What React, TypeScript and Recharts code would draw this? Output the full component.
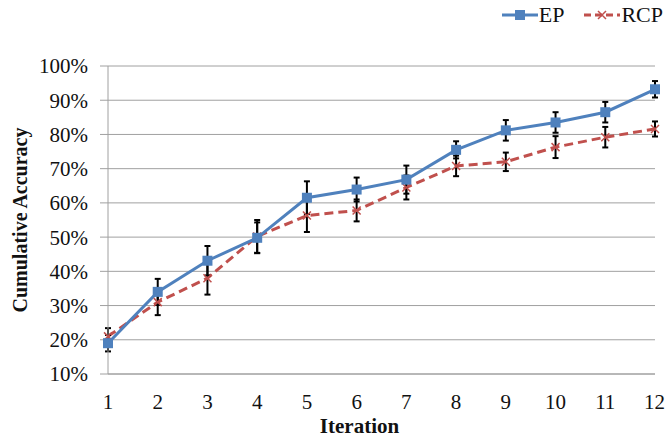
import { LineChart, Line, XAxis, YAxis, CartesianGrid, ErrorBar, Legend } from 'recharts';

const iterations = [1, 2, 3, 4, 5, 6, 7, 8, 9, 10, 11, 12];
const epValues = [19, 34, 43.1, 49.8, 61.5, 63.9, 66.8, 75.5, 81.2, 83.5, 86.5, 93.2];
const epErrors = [2.4, 3.8, 4.3, 4.5, 4.8, 3.5, 4.1, 2.5, 3, 3, 3, 2.4];
const rcpValues = [21, 31, 38, 50.2, 56.3, 57.8, 64.5, 70.8, 72, 76.3, 79.2, 81.6];
const rcpErrors = [2.4, 3.8, 4.8, 4.8, 4.8, 3.2, 3.5, 3, 2.7, 3.2, 3, 2.2];
const yTicks = [10, 20, 30, 40, 50, 60, 70, 80, 90, 100];

const EP_COLOR = '#4f81bd';
const RCP_COLOR = '#c0504d';
const FONT = '"Liberation Serif", "Times New Roman", serif';

const data = iterations.map((it, i) => ({
  it,
  ep: epValues[i],
  epErr: epErrors[i],
  rcp: rcpValues[i],
  rcpErr: rcpErrors[i],
}));

const SquareDot = (props: any) => {
  const { cx, cy } = props;
  if (cx == null || cy == null) return null;
  return <rect x={cx - 5} y={cy - 5} width={10} height={10} fill={EP_COLOR} />;
};

const CrossDot = (props: any) => {
  const { cx, cy } = props;
  if (cx == null || cy == null) return null;
  return (
    <path
      d={`M${cx - 4},${cy - 4}L${cx + 4},${cy + 4}M${cx - 4},${cy + 4}L${cx + 4},${cy - 4}`}
      stroke={RCP_COLOR}
      strokeWidth={1.5}
    />
  );
};

function ChartLegend() {
  return (
    <div style={{ display: 'flex', alignItems: 'center', fontFamily: FONT, fontSize: 22, color: '#111' }}>
      <svg width={38} height={12}>
        <line x1={1} y1={6} x2={37} y2={6} stroke={EP_COLOR} strokeWidth={3} />
        <rect x={14} y={1} width={10} height={10} fill={EP_COLOR} />
      </svg>
      <span style={{ marginRight: 19 }}>EP</span>
      <svg width={38} height={12}>
        <line x1={1} y1={6} x2={37} y2={6} stroke={RCP_COLOR} strokeWidth={3} strokeDasharray="7 4" />
        <path d="M15,2L23,10M15,10L23,2" stroke={RCP_COLOR} strokeWidth={1.5} />
      </svg>
      <span>RCP</span>
    </div>
  );
}

export default function App() {
  return (
    <div style={{ position: 'absolute', left: 0, top: 0, background: '#fff' }}>
      <LineChart width={665} height={438} data={data} margin={{ top: 40, right: 10, bottom: 0, left: 0 }}>
        <CartesianGrid vertical={false} stroke="#a0a0a0" strokeWidth={1} />
        <XAxis
          dataKey="it"
          type="number"
          domain={[1, 12]}
          ticks={iterations}
          height={64}
          axisLine={{ stroke: '#a0a0a0' }}
          tickLine={false}
          tickSize={0}
          tickMargin={20}
          tick={{ fill: '#111', fontSize: 21, fontFamily: FONT }}
          label={{
            value: 'Iteration',
            position: 'insideBottom',
            offset: 5,
            dx: -22,
            style: { fontFamily: FONT, fontSize: 21, fontWeight: 'bold', fill: '#111' },
          }}
        />
        <YAxis
          type="number"
          domain={[10, 100]}
          ticks={yTicks}
          width={108}
          axisLine={{ stroke: '#a0a0a0' }}
          tickLine={{ stroke: '#a0a0a0' }}
          tickSize={8}
          tickMargin={12}
          tickFormatter={(v: number) => `${v}%`}
          tick={{ fill: '#111', fontSize: 21, fontFamily: FONT }}
          label={{
            value: 'Cumulative Accuracy',
            angle: -90,
            position: 'insideLeft',
            offset: 20,
            style: { fontFamily: FONT, fontSize: 20, fontWeight: 'bold', fill: '#111', textAnchor: 'middle' },
          }}
        />
        <Legend
          verticalAlign="top"
          align="right"
          content={() => <ChartLegend />}
          wrapperStyle={{ top: 2, right: 2, left: 'auto', width: 'auto' }}
        />
        <Line
          dataKey="rcp"
          name="RCP"
          stroke={RCP_COLOR}
          strokeWidth={3}
          strokeDasharray="9 5"
          dot={<CrossDot />}
          activeDot={false}
          isAnimationActive={false}
        >
          <ErrorBar dataKey="rcpErr" direction="y" stroke="#000" strokeWidth={2} width={3} />
        </Line>
        <Line
          dataKey="ep"
          name="EP"
          stroke={EP_COLOR}
          strokeWidth={3}
          dot={<SquareDot />}
          activeDot={false}
          isAnimationActive={false}
        >
          <ErrorBar dataKey="epErr" direction="y" stroke="#000" strokeWidth={2} width={3} />
        </Line>
      </LineChart>
    </div>
  );
}
